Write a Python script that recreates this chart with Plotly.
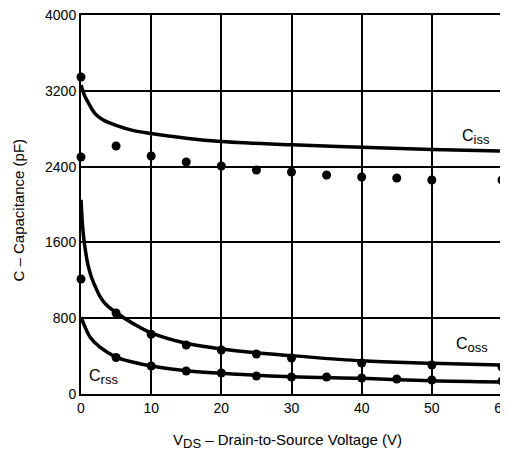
import plotly.graph_objects as go

# Curve (typical) values
ciss_x = [0, 0.5, 1, 2, 3, 5, 7.5, 10, 15, 20, 30, 40, 50, 60]
ciss_y = [3260, 3150, 3080, 2960, 2900, 2835, 2780, 2750, 2700, 2665, 2630, 2605, 2580, 2565]
coss_x = [0, 0.25, 0.5, 1, 1.5, 2, 2.7, 3.5, 5, 7.5, 10, 15, 20, 25, 30, 40, 50, 60]
coss_y = [2050, 1750, 1580, 1360, 1230, 1140, 1030, 950, 860, 740, 645, 535, 475, 435, 405, 350, 325, 305]
crss_x = [0, 0.5, 1.3, 2.7, 5, 7.5, 10, 15, 20, 30, 40, 50, 60]
crss_y = [810, 720, 600, 495, 390, 335, 296, 245, 220, 182, 165, 140, 127]

# Measured dots
ciss_dx = [0, 0, 5, 10, 15, 20, 25, 30, 35, 40, 45, 50, 60]
ciss_dy = [3346, 2501, 2617, 2512, 2449, 2406, 2364, 2343, 2311, 2290, 2280, 2259, 2259]
coss_dx = [0, 5, 10, 15, 20, 25, 30, 40, 50, 60]
coss_dy = [1214, 855, 630, 517, 464, 422, 380, 327, 306, 285]
crss_dx = [5, 10, 15, 20, 25, 30, 35, 40, 45, 50, 60]
crss_dy = [385, 296, 243, 222, 190, 180, 180, 169, 158, 148, 137]

x_ticks = [0, 10, 20, 30, 40, 50, 60]
y_ticks = [0, 800, 1600, 2400, 3200, 4000]

fig = go.Figure()
for xs, ys in [(ciss_x, ciss_y), (coss_x, coss_y), (crss_x, crss_y)]:
    fig.add_trace(go.Scatter(x=xs, y=ys, mode="lines", line=dict(color="black", width=3.5, shape="spline"),
                             showlegend=False, cliponaxis=False))
for xs, ys in [(ciss_dx, ciss_dy), (coss_dx, coss_dy), (crss_dx, crss_dy)]:
    fig.add_trace(go.Scatter(x=xs, y=ys, mode="markers", marker=dict(color="black", size=9),
                             showlegend=False, cliponaxis=False))

fam = "Liberation Sans, Arial, sans-serif"
font = dict(family=fam, size=14, color="black")
tfont = dict(family=fam, size=15, color="black")
sub = "<sub><span style='font-size:13px'>{}</span></sub>"
for name, x, y in [("iss", 56.3, 2712), ("oss", 55.7, 517), ("rss", 3.2, 180)]:
    fig.add_annotation(x=x, y=y, text="C" + sub.format(name), showarrow=False,
                       font=dict(family=fam, size=16, color="black"))

# Axis titles
fig.add_annotation(xref="paper", yref="paper", x=0.49, y=0, yshift=-47, yanchor="middle",
                   text="V" + sub.format("DS") + " – Drain-to-Source Voltage (V)", showarrow=False, font=tfont)
fig.add_annotation(xref="paper", yref="paper", x=0, y=0.5, xshift=-63, yshift=-6, textangle=-90,
                   xanchor="center", yanchor="middle",
                   text="C – Capacitance (pF)", showarrow=False, font=tfont)

fig.update_xaxes(range=[0, 60], tickvals=x_ticks, showgrid=True, gridcolor="black", gridwidth=2,
                 showline=True, linecolor="black", linewidth=2, mirror=True, zeroline=False,
                 ticks="", tickfont=font, automargin=False, ticklabeloverflow="allow")
fig.update_yaxes(range=[0, 4000], tickvals=y_ticks, showgrid=True, gridcolor="black", gridwidth=2,
                 showline=True, linecolor="black", linewidth=2, mirror=True, zeroline=False,
                 ticks="", tickfont=font, automargin=False, ticklabeloverflow="allow")
fig.update_layout(width=500, height=444, margin=dict(l=73, r=6, t=7, b=58),
                  plot_bgcolor="white", paper_bgcolor="white", font=font)
fig.write_html("out.html")
